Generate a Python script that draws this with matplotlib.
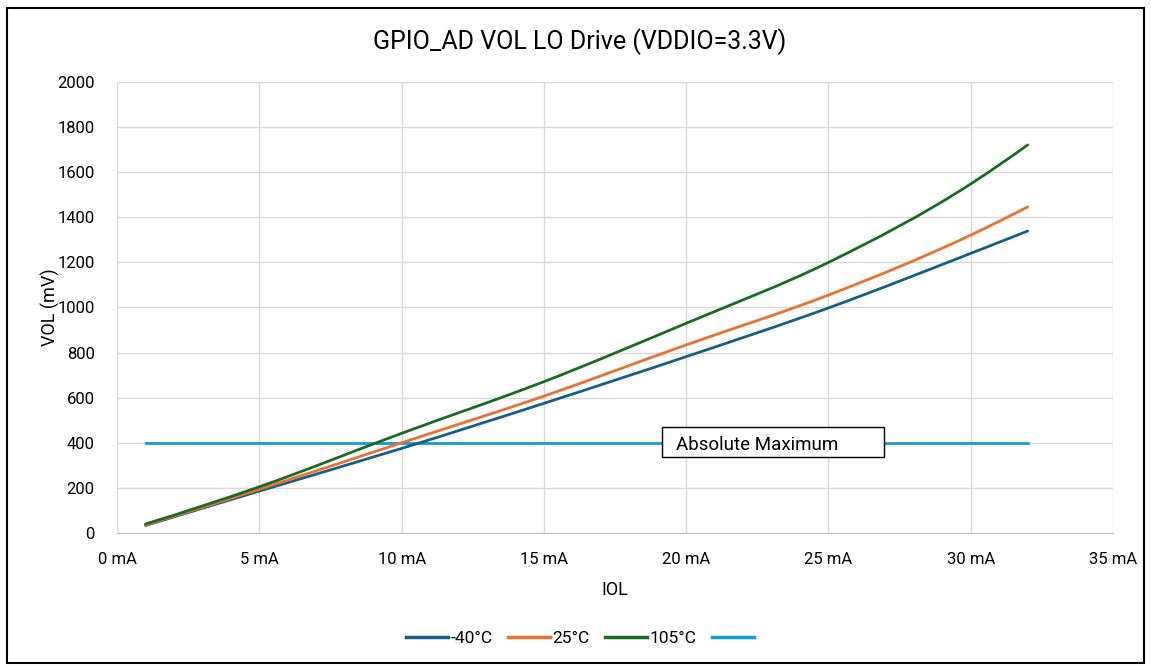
import matplotlib.pyplot as plt
from matplotlib.lines import Line2D
from matplotlib.patches import Rectangle, PathPatch
from matplotlib.path import Path

plt.rcParams['font.family'] = ['Roboto', 'DejaVu Sans']

# IOL in mA, VOL in mV
iol = [1, 5, 10, 15, 20, 25, 30, 32]
vol_m40 = [33, 186, 375, 575, 782, 998, 1240, 1339]
vol_25 = [35, 194, 400, 607, 834, 1055, 1321, 1446]
vol_105 = [40, 205, 442, 671, 930, 1200, 1548, 1721]
abs_max_x = [1, 32]
abs_max_y = [400, 400]

series_labels = ['-40°C', '25°C', '105°C', ' ']
colors = ['#156082', '#E97132', '#196B24', '#0F9ED5']


def smooth_path(xs, ys):
    # cubic bezier through the points with 3-point derivative estimates
    n = len(xs)
    h = [xs[i + 1] - xs[i] for i in range(n - 1)]
    d = [(ys[i + 1] - ys[i]) / h[i] for i in range(n - 1)]
    m = [0.0] * n
    for i in range(1, n - 1):
        m[i] = (h[i] * d[i - 1] + h[i - 1] * d[i]) / (h[i - 1] + h[i])
    m[0] = d[0] - (d[1] - d[0]) * h[0] / (h[0] + h[1])
    m[-1] = d[-1] + (d[-1] - d[-2]) * h[-1] / (h[-1] + h[-2])
    verts = [(xs[0], ys[0])]
    codes = [Path.MOVETO]
    for i in range(n - 1):
        dx = h[i]
        verts += [(xs[i] + dx / 3, ys[i] + m[i] * dx / 3),
                  (xs[i + 1] - dx / 3, ys[i + 1] - m[i + 1] * dx / 3),
                  (xs[i + 1], ys[i + 1])]
        codes += [Path.CURVE4] * 3
    return Path(verts, codes)


fig = plt.figure(figsize=(11.51, 6.67), dpi=100)
ax = fig.add_axes([0.1017, 0.2009, 0.8653, 0.6762])

for y, c in zip([vol_m40, vol_25, vol_105], colors):
    ax.add_patch(PathPatch(smooth_path(iol, y), facecolor='none', edgecolor=c,
                           lw=2.0, capstyle='round', zorder=3))
ax.plot(abs_max_x, abs_max_y, color=colors[3], lw=2.0, zorder=2)

ax.set_xlim(0, 35)
ax.set_ylim(0, 2000)
ax.set_xticks(range(0, 36, 5))
ax.set_xticklabels([f'{v} mA' for v in range(0, 36, 5)])
ax.set_yticks(range(0, 2001, 200))
ax.grid(True, color='#D9D9D9', lw=1.0)
ax.set_axisbelow(True)
for s in ['top', 'right', 'left']:
    ax.spines[s].set_visible(False)
ax.spines['bottom'].set_color('#BFBFBF')
ax.tick_params(axis='y', length=0, labelsize=12, colors='#000000', pad=16)
ax.tick_params(axis='x', length=0, labelsize=12, colors='#000000', pad=14)

ax.set_xlabel('IOL', fontsize=13, labelpad=10)
ax.set_ylabel('VOL (mV)', fontsize=13, labelpad=-2)
fig.text(0.504, 0.937, 'GPIO_AD VOL LO Drive (VDDIO=3.3V)', ha='center', va='center', fontsize=18)

# "Absolute Maximum" callout box
box = Rectangle((19.15, 337), 7.8, 133, facecolor='white', edgecolor='black', lw=1.0, zorder=4)
ax.add_patch(box)
ax.text(19.65, 392, 'Absolute Maximum', fontsize=13.5, va='center', ha='left', zorder=5)

handles = [Line2D([], [], color=c, lw=2.5) for c in colors]
fig.legend(handles, series_labels, loc='center', bbox_to_anchor=(0.507, 0.043), ncol=4,
           frameon=False, fontsize=12.5, handlelength=2.4, handletextpad=0.15, columnspacing=0.9)

# outer chart border
fig.add_artist(Rectangle((0.006, 0.006), 0.988, 0.982, transform=fig.transFigure,
                         fill=False, edgecolor='black', lw=1.5))

fig.savefig('out.png', dpi=100)
